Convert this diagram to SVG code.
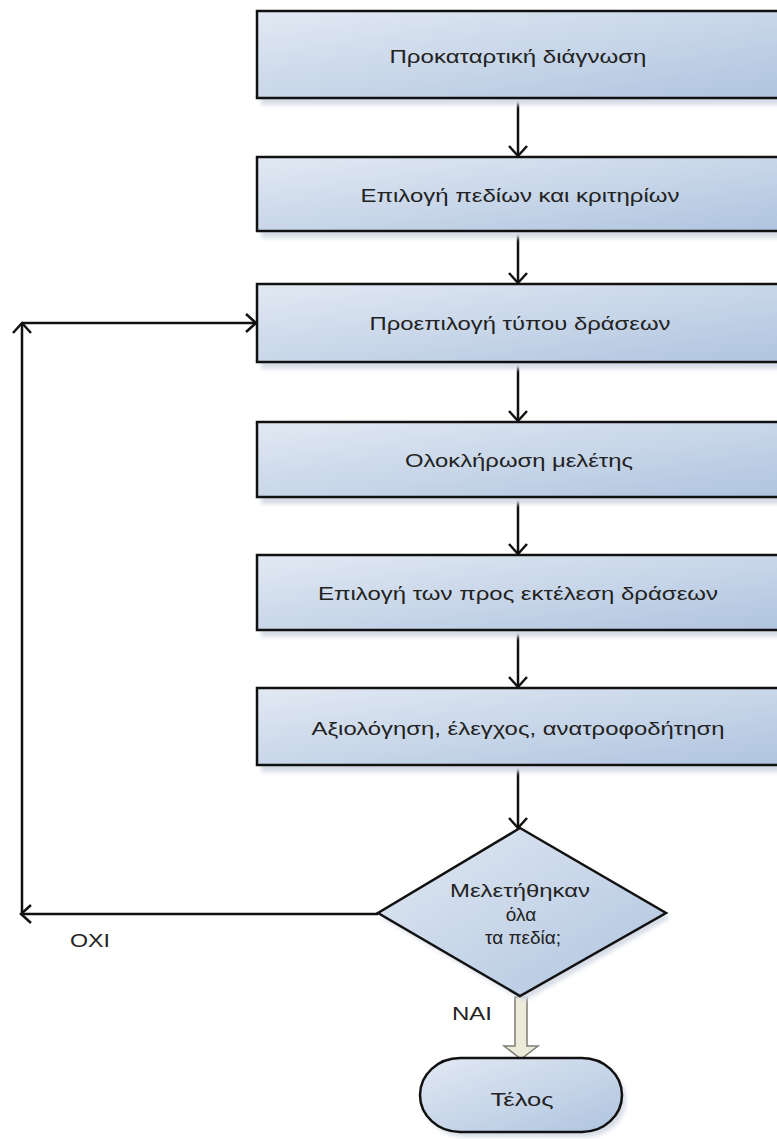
<svg xmlns="http://www.w3.org/2000/svg" width="777" height="1139" viewBox="0 0 777 1139">
<style>
  .box { fill: url(#boxGrad); stroke: #111; stroke-width: 2.5; }
  .shadow { fill: #d6dce6; filter: url(#blur); }
  .lbl { font-family: "Liberation Sans", Arial, sans-serif; font-size: 19px; fill: #222; text-anchor: middle; dominant-baseline: central; }
  .conn { fill: none; stroke: #111; stroke-width: 2.5; }
</style>
<defs>
  <linearGradient id="boxGrad" x1="0" y1="0" x2="1" y2="1">
    <stop offset="0" stop-color="#e2e9f3"/>
    <stop offset="1" stop-color="#afc4df"/>
  </linearGradient>
  <filter id="blur" x="-10%" y="-20%" width="120%" height="140%">
    <feGaussianBlur stdDeviation="2"/>
  </filter>
  <marker id="arr" viewBox="-2 -2 14 22" markerWidth="14" markerHeight="22" refX="10" refY="9" orient="auto" markerUnits="userSpaceOnUse">
    <path d="M0,0 L10,9 L0,18" fill="none" stroke="#111" stroke-width="2.5"/>
  </marker>
</defs>
<rect width="777" height="1139" fill="#ffffff"/>

<g id="connectors">
  <path class="conn" d="M518,98 V156" marker-end="url(#arr)"/>
  <path class="conn" d="M518,231 V283" marker-end="url(#arr)"/>
  <path class="conn" d="M518,362 V421" marker-end="url(#arr)"/>
  <path class="conn" d="M518,497 V554" marker-end="url(#arr)"/>
  <path class="conn" d="M518,630 V687" marker-end="url(#arr)"/>
  <path class="conn" d="M518,765 V828" marker-end="url(#arr)"/>
  <path class="conn" d="M378,914 H21" marker-end="url(#arr)"/>
  <path class="conn" d="M22,914 V323" marker-end="url(#arr)"/>
  <path class="conn" d="M22,323 H256" marker-end="url(#arr)"/>
  <polygon points="515,997 527,997 527,1046 538,1046 521,1059 504,1046 515,1046" fill="#ecebd9" stroke="#7d7d74" stroke-width="1.5"/>
  <text class="lbl" x="90" y="940" textLength="40" lengthAdjust="spacingAndGlyphs">OXI</text>
  <text class="lbl" x="472" y="1013" textLength="40" lengthAdjust="spacingAndGlyphs">NAI</text>
</g>

<g id="n1">
  <rect class="shadow" x="261" y="16" width="530" height="89"/>
  <rect class="box" x="257" y="11" width="530" height="87"/>
  <text class="lbl" x="518" y="56" textLength="257" lengthAdjust="spacingAndGlyphs">Προκαταρτική διάγνωση</text>
</g>
<g id="n2">
  <rect class="shadow" x="261" y="162" width="530" height="76"/>
  <rect class="box" x="257" y="157" width="530" height="74"/>
  <text class="lbl" x="520" y="195" textLength="319" lengthAdjust="spacingAndGlyphs">Επιλογή πεδίων και κριτηρίων</text>
</g>
<g id="n3">
  <rect class="shadow" x="261" y="289" width="530" height="80"/>
  <rect class="box" x="257" y="284" width="530" height="78"/>
  <text class="lbl" x="520" y="323" textLength="301" lengthAdjust="spacingAndGlyphs">Προεπιλογή τύπου δράσεων</text>
</g>
<g id="n4">
  <rect class="shadow" x="261" y="427" width="530" height="77"/>
  <rect class="box" x="257" y="422" width="530" height="75"/>
  <text class="lbl" x="519" y="460" textLength="228" lengthAdjust="spacingAndGlyphs">Ολοκλήρωση μελέτης</text>
</g>
<g id="n5">
  <rect class="shadow" x="261" y="560" width="530" height="77"/>
  <rect class="box" x="257" y="555" width="530" height="75"/>
  <text class="lbl" x="518" y="593" textLength="400" lengthAdjust="spacingAndGlyphs">Επιλογή των προς εκτέλεση δράσεων</text>
</g>
<g id="n6">
  <rect class="shadow" x="261" y="693" width="530" height="79"/>
  <rect class="box" x="257" y="688" width="530" height="77"/>
  <text class="lbl" x="518" y="728" textLength="413" lengthAdjust="spacingAndGlyphs">Αξιολόγηση, έλεγχος, ανατροφοδήτηση</text>
</g>
<g id="decision">
  <polygon class="shadow" points="524,833 670,918 524,1001 382,918"/>
  <polygon class="box" points="520,828 666,913 520,996 378,913"/>
  <text class="lbl" x="520" y="890" textLength="140" lengthAdjust="spacingAndGlyphs">Μελετήθηκαν</text>
  <text class="lbl" x="521" y="914">όλα</text>
  <text class="lbl" x="523" y="937">τα πεδία;</text>
</g>
<g id="end">
  <rect class="shadow" x="424" y="1063" width="202" height="74" rx="40" ry="37"/>
  <rect class="box" x="420" y="1058" width="202" height="74" rx="40" ry="37"/>
  <text class="lbl" x="522" y="1099" textLength="63" lengthAdjust="spacingAndGlyphs">Τέλος</text>
</g>
</svg>
